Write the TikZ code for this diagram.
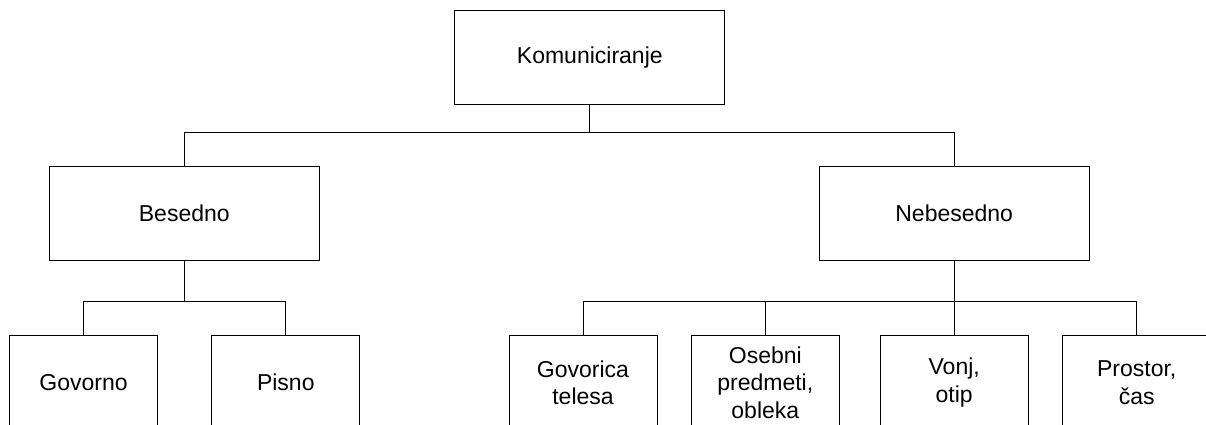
\documentclass[tikz,border=0pt]{standalone}
\usepackage{fontspec}
\setmainfont{Liberation Sans}
\begin{document}
\begin{tikzpicture}[x=1pt,y=-1pt,
  big/.style={draw=black,line width=1pt,minimum width=270pt,minimum height=94pt,inner sep=0pt,align=center,
    font=\fontsize{23}{27.5}\selectfont},
  small/.style={draw=black,line width=1pt,minimum width=148pt,minimum height=94pt,inner sep=0pt,align=center,
    font=\fontsize{23}{27.5}\selectfont},
  conn/.style={draw=black,line width=1pt}]
\clip (0,0) rectangle (1206,425);
\useasboundingbox (0,0) rectangle (1206,425);
\coordinate (b1) at (0,132.7);
\coordinate (b2) at (0,301.7);
\node[big] (top) at (589.8,58) {Komuniciranje};
\node[big] (bes) at (184.3,213.7) {Besedno};
\node[big] (neb) at (954.2,213.7) {Nebesedno};
\node[small] (gov) at (83.5,382.7) {Govorno};
\node[small] (pis) at (285.8,382.7) {Pisno};
\node[small] (govt) at (583,382.7) {Govorica\\telesa};
\node[small] (ose) at (765.3,382.7) {Osebni\\predmeti,\\obleka};
\node[small] (vonj) at (954.2,382.7) {Vonj,\\otip};
\node[small] (pros) at (1136.7,382.7) {Prostor,\\čas};
\draw[conn] (top.south) -- (top.south |- b1);
\draw[conn] (bes.north) |- (b1 -| top.south) -| (neb.north);
\draw[conn] (bes.south) -- (bes.south |- b2);
\draw[conn] (gov.north) |- (b2 -| bes.south) -| (pis.north);
\draw[conn] (neb.south) -- (vonj.north);
\draw[conn] (govt.north) |- (b2 -| neb.south) -| (pros.north);
\draw[conn] (ose.north) -- (ose.north |- b2);
\end{tikzpicture}
\end{document}
